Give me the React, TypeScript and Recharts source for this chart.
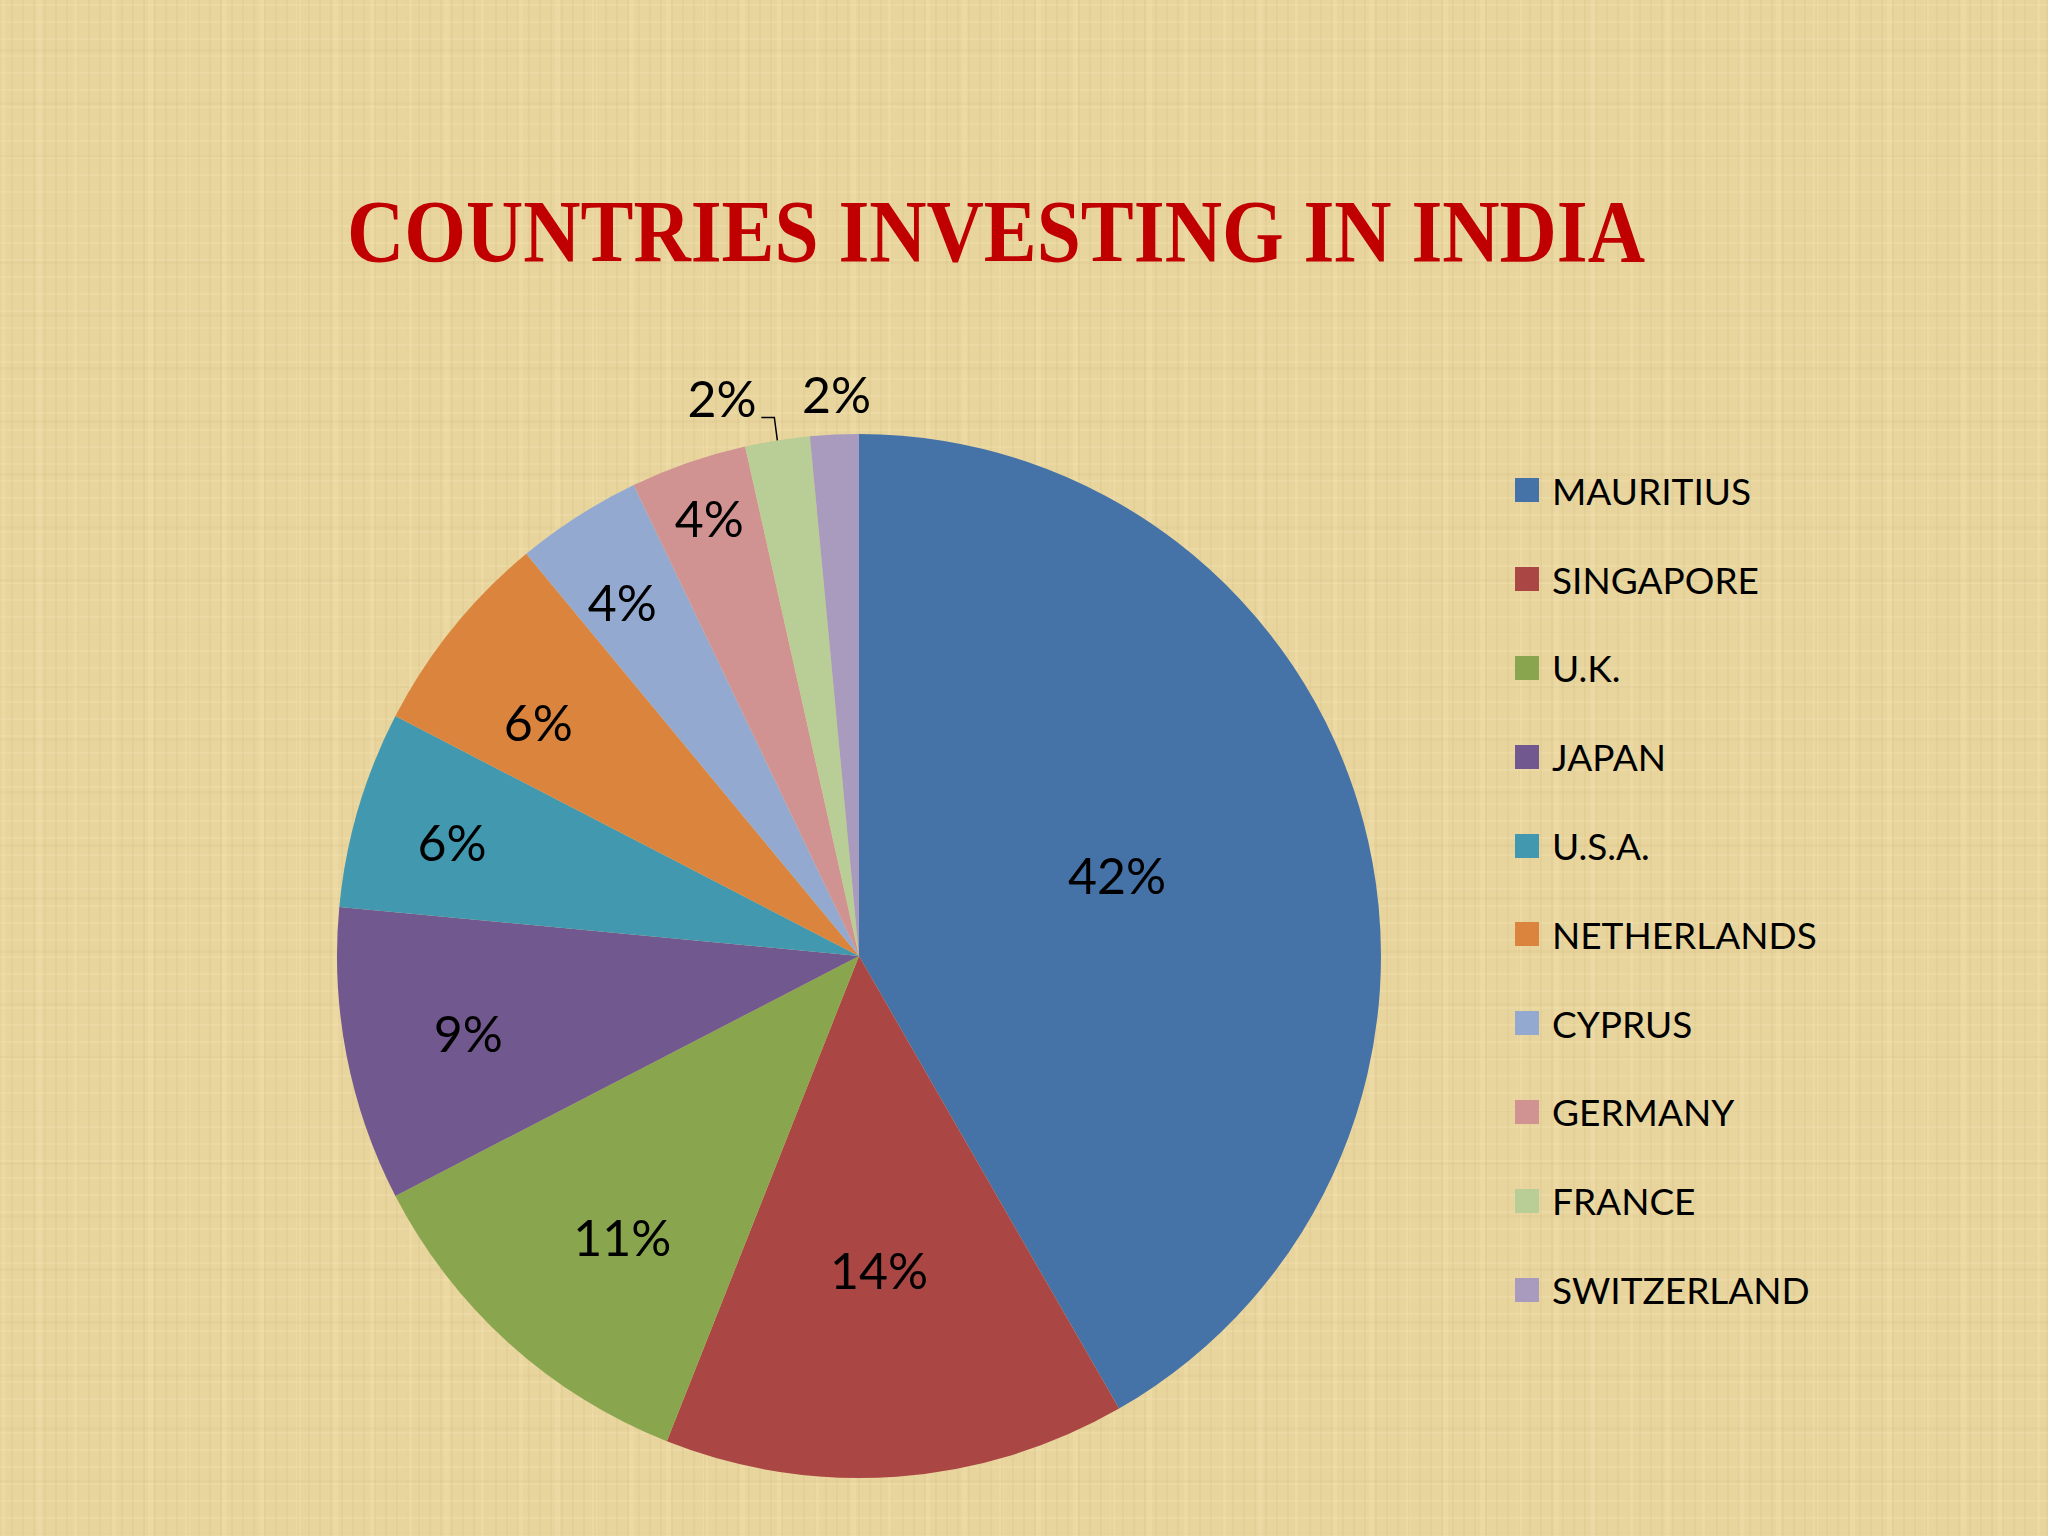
import { PieChart, Pie, Cell, Legend } from "recharts";

const countries = [
  "MAURITIUS",
  "SINGAPORE",
  "U.K.",
  "JAPAN",
  "U.S.A.",
  "NETHERLANDS",
  "CYPRUS",
  "GERMANY",
  "FRANCE",
  "SWITZERLAND",
];
const shares = [41.7, 14.3, 11.4, 9.1, 6.1, 6.4, 3.9, 3.6, 2.0, 1.5];
const colors = [
  "#4572A7",
  "#AA4643",
  "#89A54E",
  "#71588F",
  "#4198AF",
  "#DB843D",
  "#93A9CF",
  "#D19392",
  "#B9CD96",
  "#A99BBD",
];

// label placement: radius as a fraction of the pie radius, plus an angle nudge (deg)
const labelRadius = [0.518, 0.603, 0.704, 0.763, 0.81, 0.76, 0.816, 0.887, 1.1, 1.078];
const labelNudge = [2.5, -0.5, 2.0, 0.2, 0.7, 2.8, 1.2, -0.2, 4.8, -0.4];
const leaderIndex = 8;

const data = countries.map((name, i) => ({ name, value: shares[i] }));

const RADIAN = Math.PI / 180;
const font = "Lato, 'Open Sans', sans-serif";

const renderLabel = (props: any) => {
  const { cx, cy, midAngle, outerRadius, percent, index } = props;
  const ang = (midAngle + labelNudge[index]) * RADIAN;
  const r = outerRadius * labelRadius[index];
  const x = cx + r * Math.cos(-ang);
  const y = cy + r * Math.sin(-ang);
  const text = `${Math.round(percent * 100)}%`;
  let leader = null;
  if (index === leaderIndex) {
    const ex = cx + outerRadius * Math.cos(-midAngle * RADIAN);
    const ey = cy + outerRadius * Math.sin(-midAngle * RADIAN);
    leader = (
      <polyline
        points={`${ex - 16},${ey - 23} ${ex - 3},${ey - 23} ${ex},${ey}`}
        fill="none"
        stroke="#000"
        strokeWidth={1.5}
      />
    );
  }
  return (
    <g key={`lbl-${index}`}>
      {leader}
      <text
        x={x}
        y={y}
        textAnchor="middle"
        dominantBaseline="central"
        fontFamily={font}
        fontSize={50}
        fill="#000"
      >
        {text}
      </text>
    </g>
  );
};

const renderLegend = (props: any) => {
  const items = [...(props.payload || [])].sort(
    (a: any, b: any) => countries.indexOf(a.value) - countries.indexOf(b.value)
  );
  return (
    <div>
      {items.map((entry: any, i: number) => (
        <div
          key={`leg-${i}`}
          style={{ height: 88.8, display: "flex", alignItems: "center" }}
        >
          <span
            style={{
              width: 24,
              height: 24,
              background: entry.color,
              display: "inline-block",
              marginRight: 13,
            }}
          />
          <span style={{ fontFamily: font, fontSize: 37, color: "#000" }}>
            {entry.value}
          </span>
        </div>
      ))}
    </div>
  );
};

const App = () => {
  return (
    <div
      style={{
        position: "absolute",
        left: 0,
        top: 0,
        width: 2048,
        height: 1536,
        overflow: "hidden",
        backgroundColor: "#E8D59E",
        backgroundImage:
          "repeating-linear-gradient(90deg, rgba(190,160,80,0.10) 0px, rgba(190,160,80,0.10) 2px, transparent 2px, transparent 11px), repeating-linear-gradient(90deg, rgba(255,235,190,0.16) 0px, rgba(255,235,190,0.16) 5px, transparent 5px, transparent 37px), repeating-linear-gradient(0deg, rgba(255,240,200,0.16) 0px, rgba(255,240,200,0.16) 2px, transparent 2px, transparent 17px), repeating-linear-gradient(0deg, rgba(185,160,90,0.08) 0px, rgba(185,160,90,0.08) 3px, transparent 3px, transparent 53px)",
      }}
    >
      <svg
        width={2048}
        height={300}
        style={{ position: "absolute", left: 0, top: 0 }}
      >
        <text
          x={347}
          y={261}
          textLength={1298}
          lengthAdjust="spacingAndGlyphs"
          fontFamily="'Liberation Serif', 'Times New Roman', serif"
          fontWeight="bold"
          fontSize={89}
          fill="#C00000"
        >
          COUNTRIES INVESTING IN INDIA
        </text>
      </svg>
      <div style={{ position: "absolute", left: 0, top: 0 }}>
        <PieChart
          width={2048}
          height={1536}
          margin={{ top: 0, right: 0, bottom: 0, left: 0 }}
        >
          <Pie
            data={data}
            dataKey="value"
            nameKey="name"
            cx={859}
            cy={956}
            outerRadius={522}
            startAngle={90}
            endAngle={-270}
            stroke="none"
            label={renderLabel}
            labelLine={false}
            isAnimationActive={false}
          >
            {data.map((d, i) => (
              <Cell key={d.name} fill={colors[i]} />
            ))}
          </Pie>
          <Legend
            layout="vertical"
            itemSorter={null as any}
            content={renderLegend}
            wrapperStyle={{ left: 1515, top: 446, width: 450 }}
          />
        </PieChart>
      </div>
    </div>
  );
};

export default App;
